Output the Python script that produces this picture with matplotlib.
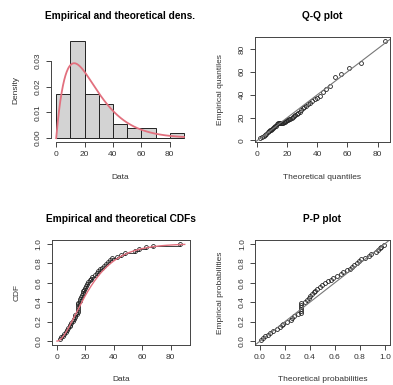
import math
import numpy as np
import matplotlib
matplotlib.use('Agg')
import matplotlib.pyplot as plt

data = [2, 3, 4, 5, 6, 7, 8, 9, 9.5,
        10, 11, 12, 12.5, 13, 14, 15, 15, 15, 15, 15, 15, 16, 16.5, 17, 17.5, 18, 18.5, 19, 19.5,
        20.5, 21, 22, 23, 24, 25, 26.5, 28, 29,
        30.5, 32, 33, 34.5, 36, 37.5, 39,
        42, 45, 48,
        55, 58,
        63, 68,
        87]
# fitted gamma parameters
shape = 2.0
rate = 0.079
breaks = [0, 10, 20, 30, 40, 50, 60, 70, 80, 90]

plt.rcParams['font.family'] = ['Liberation Sans', 'DejaVu Sans']
axcol = '#444444'
fitcol = '#e2707e'

grid = np.linspace(0, 300, 30001)
pdf = rate**shape * grid**(shape - 1) * np.exp(-rate * grid) / math.gamma(shape)
cdf = np.concatenate([[0], np.cumsum((pdf[1:] + pdf[:-1]) / 2 * np.diff(grid))])

x = np.sort(np.array(data, dtype=float))
n = len(x)
probs = (np.arange(1, n + 1) - 0.5) / n
theo_q = np.interp(probs, cdf, grid)
theo_p = np.interp(x, grid, cdf)


def rlim(a, b):
    d = (b - a) * 0.04
    return a - d, b + d


def style(ax, xt, yt, xfmt, yfmt, box=True):
    ax.set_xticks(xt)
    ax.set_yticks(yt)
    ax.set_xticklabels([xfmt % v for v in xt])
    ax.set_yticklabels([yfmt % v for v in yt], rotation=90, va='center')
    ax.tick_params(direction='out', length=3.6, width=0.7, colors=axcol,
                   labelsize=6, labelcolor='#333333', pad=3)
    for s in ax.spines.values():
        s.set_color(axcol)
        s.set_linewidth(0.7)
    if not box:
        ax.spines['top'].set_visible(False)
        ax.spines['right'].set_visible(False)
        ax.spines['bottom'].set_bounds(xt[0], xt[-1])
        ax.spines['left'].set_bounds(yt[0], yt[-1])


def labels(ax, title, xl, yl):
    ax.set_title(title, fontsize=7.3, fontweight='bold', pad=13)
    ax.set_xlabel(xl, fontsize=6, color='#333333')
    ax.set_ylabel(yl, fontsize=6, color='#333333')
    ax.xaxis.set_label_coords(0.5, -0.30)
    ax.yaxis.set_label_coords(-0.23, 0.5)


fig = plt.figure(figsize=(3.93, 3.85), dpi=100)
ax1 = fig.add_axes([0.130, 0.631, 0.351, 0.273])
ax2 = fig.add_axes([0.649, 0.631, 0.343, 0.273])
ax3 = fig.add_axes([0.132, 0.104, 0.351, 0.273])
ax4 = fig.add_axes([0.649, 0.104, 0.343, 0.273])

# histogram + fitted density
counts, edges, _ = ax1.hist(x, bins=breaks, density=True, color='#d3d3d3',
                            edgecolor='#222222', linewidth=0.7)
xs = np.linspace(0, 90, 400)
dens = np.interp(xs, grid, pdf)
ax1.plot(xs, dens, color=fitcol, lw=1.3)
ax1.set_xlim(*rlim(0, 90))
ax1.set_ylim(*rlim(0, max(counts.max(), dens.max())))
style(ax1, [0, 20, 40, 60, 80], [0, 0.01, 0.02, 0.03], '%d', '%.2f', box=False)
labels(ax1, 'Empirical and theoretical dens.', 'Data', 'Density')

# Q-Q plot
ax2.plot(theo_q, x, 'o', mfc='none', mec='#222222', ms=2.8, mew=0.6)
ax2.axline((0, 0), slope=1, color='#777777', lw=0.8)
ax2.set_xlim(*rlim(theo_q.min(), theo_q.max()))
ax2.set_ylim(*rlim(x.min(), x.max()))
style(ax2, [0, 20, 40, 60, 80], [0, 20, 40, 60, 80], '%d', '%d')
labels(ax2, 'Q-Q plot', 'Theoretical quantiles', 'Empirical quantiles')

# CDFs
ecdf = np.arange(1, n + 1) / n
ax3.step(x, ecdf, where='post', color='#222222', lw=0.6)
ax3.plot(x, ecdf, 'o', mfc='none', mec='#222222', ms=2.8, mew=0.6)
ax3.plot(xs, np.interp(xs, grid, cdf), color=fitcol, lw=1.0)
ax3.set_xlim(*rlim(0, 90))
ax3.set_ylim(*rlim(0, 1))
style(ax3, [0, 20, 40, 60, 80], [0, 0.2, 0.4, 0.6, 0.8, 1.0], '%d', '%.1f')
labels(ax3, 'Empirical and theoretical CDFs', 'Data', 'CDF')

# P-P plot
ax4.plot(theo_p, probs, 'o', mfc='none', mec='#222222', ms=2.8, mew=0.6)
ax4.axline((0, 0), slope=1, color='#777777', lw=0.8)
ax4.set_xlim(*rlim(0, 1))
ax4.set_ylim(*rlim(0, 1))
pt = [0, 0.2, 0.4, 0.6, 0.8, 1.0]
style(ax4, pt, pt, '%.1f', '%.1f')
labels(ax4, 'P-P plot', 'Theoretical probabilities', 'Empirical probabilities')

fig.savefig('out.png', dpi=100)
